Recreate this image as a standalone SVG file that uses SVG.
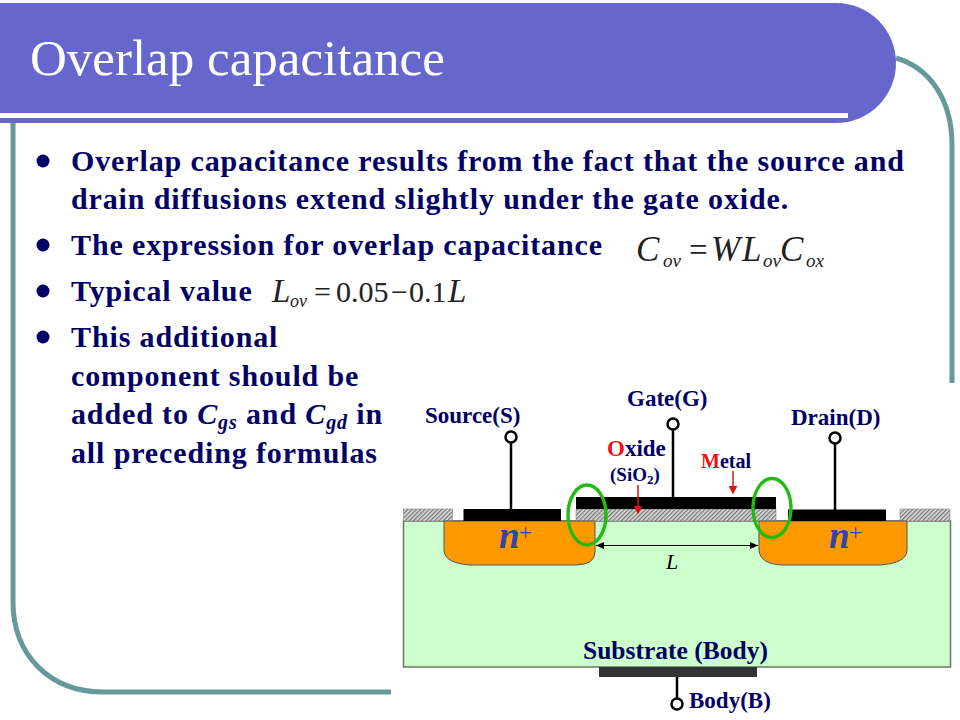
<svg xmlns="http://www.w3.org/2000/svg" width="960" height="720" viewBox="0 0 960 720">
<style>
.b{font-family:"Liberation Serif",serif;font-weight:bold;font-size:30px;fill:#000066;letter-spacing:.87px}
.m{font-family:"Liberation Serif",serif;font-style:italic;font-size:35px;fill:#222}
.s{font-family:"Liberation Serif",serif;font-style:italic;font-size:19px;fill:#222}
.n{font-family:"Liberation Serif",serif;font-size:33px;fill:#222}
.n2{font-family:"Liberation Serif",serif;font-size:30px;fill:#222}
.l{font-family:"Liberation Serif",serif;font-weight:bold;font-size:23px;fill:#000066}
.p{font-family:"Liberation Serif",serif;font-weight:bold;font-style:italic;font-size:37px;fill:#3344aa}
.pp{font-family:"Liberation Serif",serif;font-size:23px;fill:#3344aa}
.w{stroke:#000;stroke-width:2.5;fill:none}
.c{fill:#fff;stroke:#000;stroke-width:2.5}
.g{fill:none;stroke:#22bb11;stroke-width:3.4}
.d{fill:#ff9900;stroke:#555;stroke-width:1}
.k{fill:#000}
.h{fill:url(#hatch);stroke:#888;stroke-width:.6}
.t{fill:none;stroke:#669999;stroke-width:5}
</style>
<defs>
<pattern id="hatch" width="3" height="3" patternUnits="userSpaceOnUse" patternTransform="rotate(45)">
<rect width="3" height="3" fill="#ddd"/><rect width="1.300" height="3" fill="#777"/>
</pattern>
<marker id="ra" markerWidth="6" markerHeight="7" refX="5" refY="3" orient="auto"><path d="M0 0L6 3L0 6Z" fill="#e01010"/></marker>
<marker id="ka" markerWidth="8" markerHeight="8" refX="7" refY="3" orient="auto-start-reverse"><path d="M0 0L7 3L0 6Z" fill="#000"/></marker>
</defs>
<rect width="960" height="720" fill="#fff"/>
<path class="t" d="M896 58C930 68 952 100 952 145V400"/>
<path class="t" d="M13 120V602C13 655 50 692 103 692H391"/>
<path d="M0 3H836A60 60 0 0 1 836 123H0Z" fill="#6666cc"/>
<rect x="0" y="113" width="848" height="5" fill="#fff"/>
<text x="30" y="75" font-family="Liberation Serif, serif" font-size="51" fill="#fff">Overlap capacitance</text>
<g id="bullets" fill="#000066">
<circle cx="43" cy="161" r="6.500"/><circle cx="43" cy="245" r="6.500"/><circle cx="43" cy="291" r="6.500"/><circle cx="43" cy="337" r="6.500"/>
</g>
<text class="b" x="71" y="171">Overlap capacitance results from the fact that the source and</text>
<text class="b" x="71" y="209">drain diffusions extend slightly under the gate oxide.</text>
<text class="b" x="71" y="255">The expression for overlap capacitance</text>
<text class="b" x="71" y="301">Typical value</text>
<text class="b" x="71" y="347">This additional</text>
<text class="b" x="71" y="386">component should be</text>
<text class="b" x="71" y="424">added to <tspan font-style="italic">C<tspan font-size="20" dy="5">gs</tspan></tspan><tspan dy="-5"> and </tspan><tspan font-style="italic">C<tspan font-size="20" dy="5">gd</tspan></tspan><tspan dy="-5"> in</tspan></text>
<text class="b" x="71" y="463">all preceding formulas</text>
<g id="eq1">
<text class="m" x="636" y="261">C</text><text class="s" x="663" y="267">ov</text>
<text class="n" x="689" y="261">=</text><text class="m" x="711" y="261">W</text><text class="m" x="742" y="261">L</text>
<text class="s" x="763" y="267">ov</text><text class="m" x="780" y="261">C</text><text class="s" x="806" y="267">ox</text>
</g>
<g id="eq2">
<text class="m" x="272" y="302" style="font-size:33px">L</text><text class="s" x="290" y="307" style="font-size:18px">ov</text>
<text class="n2" x="314" y="302">=</text><text class="n2" x="336" y="302">0.05</text>
<text class="n2" x="391" y="302">−</text><text class="n2" x="409" y="302">0.1</text><text class="m" x="448" y="302" style="font-size:33px">L</text>
</g>
<rect x="391" y="383" width="569" height="337" fill="#fff"/>
<g id="substrate">
<rect x="403.500" y="521" width="547" height="146" fill="#ccffcc" stroke="#667766" stroke-width="1.500"/>
<text class="l" x="583" y="659" style="font-size:25.500px">Substrate (Body)</text>
</g>
<g id="oxide">
<rect class="h" x="403.500" y="509" width="49" height="12"/>
<rect class="h" x="576" y="509" width="200" height="12"/>
<rect class="h" x="900" y="509" width="50" height="12"/>
</g>
<g id="source-diff">
<path class="d" d="M444 521H595V552Q595 565 575 565H470Q444 563 444 550Z"/>
<text class="p" x="499" y="548">n</text><text class="pp" x="519" y="540">+</text>
</g>
<g id="drain-diff">
<path class="d" d="M759 521H907V550Q907 563 880 565H785Q760 565 759 550Z"/>
<text class="p" x="829" y="548">n</text><text class="pp" x="849" y="540">+</text>
</g>
<g id="metal">
<rect class="k" x="463.500" y="509" width="97.500" height="12"/>
<rect class="k" x="576" y="497" width="200" height="12"/>
<rect class="k" x="788" y="509.500" width="98" height="11.500"/>
</g>
<g id="connectors">
<line class="w" x1="511" y1="443" x2="511" y2="509"/>
<line class="w" x1="673" y1="430" x2="673" y2="497"/>
<line class="w" x1="835" y1="444" x2="835" y2="510"/>
<line class="w" x1="677" y1="677" x2="677" y2="699"/>
<line x1="596" y1="545.500" x2="758" y2="545.500" stroke="#000" stroke-width="1.200" marker-start="url(#ka)" marker-end="url(#ka)"/>
<line x1="638" y1="485" x2="638" y2="513" stroke="#e01010" stroke-width="1.500" marker-end="url(#ra)"/>
<line x1="733" y1="471" x2="733" y2="493" stroke="#e01010" stroke-width="1.500" marker-end="url(#ra)"/>
</g>
<g id="source"><circle class="c" cx="511" cy="437" r="5.500"/><text class="l" x="425" y="423">Source(S)</text></g>
<g id="gate"><circle class="c" cx="673" cy="424" r="5.500"/><text class="l" x="627" y="406">Gate(G)</text></g>
<g id="drain"><circle class="c" cx="835" cy="438" r="5.500"/><text class="l" x="791" y="425">Drain(D)</text></g>
<g id="body"><rect x="599" y="667" width="158" height="10" fill="#333"/><circle class="c" cx="677" cy="704" r="5.500"/><text class="l" x="689" y="708">Body(B)</text></g>
<g id="labels">
<text class="l" x="607" y="456"><tspan fill="#ee1111">O</tspan>xide</text>
<text class="l" x="610" y="481" style="font-size:19px">(SiO<tspan font-size="13" dy="3">2</tspan><tspan dy="-3">)</tspan></text>
<text class="l" x="701" y="468" style="font-size:20px"><tspan fill="#ee1111">M</tspan>etal</text>
<text x="666" y="569" font-family="Liberation Serif, serif" font-style="italic" font-size="22" fill="#000">L</text>
</g>
<g id="highlights">
<ellipse class="g" cx="587" cy="515" rx="19" ry="30"/>
<ellipse class="g" cx="772" cy="508" rx="19" ry="29.500"/>
</g>
</svg>
